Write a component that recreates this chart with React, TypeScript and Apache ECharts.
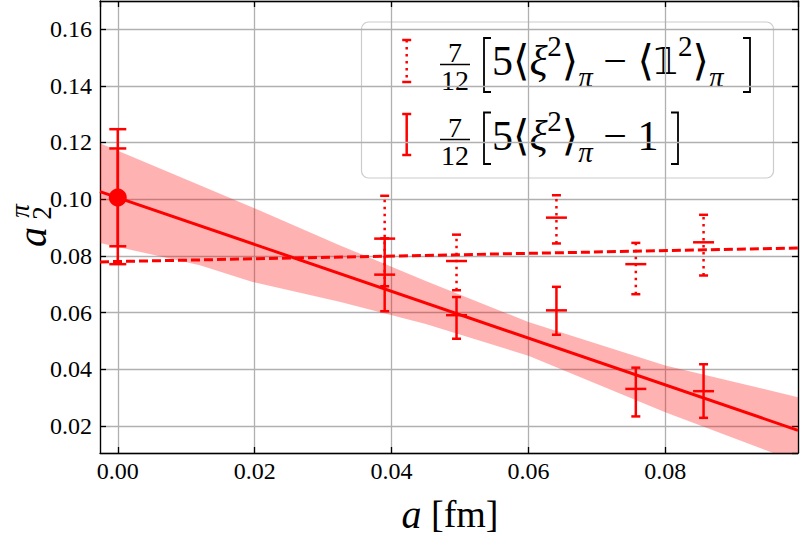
import React, { useEffect, useRef } from 'react';
import * as echarts from 'echarts';

const RED = '#ff0000';
const FONT = '"Liberation Serif", "DejaVu Serif", "DejaVu Sans", serif';
const MATHFONT = '"Liberation Serif", "DejaVu Sans", "DejaVu Serif", serif';

// lattice spacings a [fm]
const latticeA = [0.039, 0.0495, 0.0641, 0.0757, 0.0856];
// 7/12 [5<xi^2> - <1^2>]  (dotted error bars)
const dottedCenter = [0.0861, 0.0782, 0.0935, 0.0771, 0.0848];
const dottedLow = [0.0693, 0.0679, 0.0844, 0.0665, 0.0731];
const dottedHigh = [0.1012, 0.0875, 0.1014, 0.0846, 0.0945];
// 7/12 [5<xi^2> - 1]  (solid error bars)
const solidCenter = [0.0734, 0.0591, 0.0608, 0.0331, 0.0323];
const solidLow = [0.0605, 0.0508, 0.0522, 0.0234, 0.0229];
const solidHigh = [0.0862, 0.0655, 0.0691, 0.0406, 0.0418];

// continuum extrapolation
const contA = [0];
const contValue = [0.1006];
const contLowOuter = [0.0771];
const contHighOuter = [0.1247];
const contLowInner = [0.0834];
const contHighInner = [0.1179];

// fit lines
const fitSolidX = [-0.0026, 0.0994];
const fitSolidY = [0.1027, 0.0185];
const fitDashedX = [-0.0026, 0.0994];
const fitDashedY = [0.0779, 0.0828];

// fit uncertainty band
const bandX = [-0.0026, 0.012, 0.0197, 0.0324, 0.045, 0.06, 0.08, 0.0994];
const bandLow = [0.0846, 0.0767, 0.0708, 0.0638, 0.056, 0.0448, 0.0249, 0.0072];
const bandHigh = [0.1197, 0.1049, 0.0971, 0.0838, 0.0712, 0.0567, 0.0414, 0.0302];

const X_MIN = -0.0026;
const X_MAX = 0.0994;
const Y_MIN = 0.0105;
const Y_MAX = 0.1699;

function errorBarRenderer(dash: number[] | null, capW: number, midW: number, lw: number) {
  return (params: any, api: any) => {
    const x = api.value(0);
    const c = api.value(1);
    const lo = api.value(2);
    const hi = api.value(3);
    const pc = api.coord([x, c]);
    const pl = api.coord([x, lo]);
    const ph = api.coord([x, hi]);
    const st = { stroke: RED, lineWidth: lw, fill: 'none' };
    const children: any[] = [
      {
        type: 'line',
        shape: { x1: pl[0], y1: pl[1], x2: ph[0], y2: ph[1] },
        style: dash ? { ...st, lineDash: dash } : st,
      },
      { type: 'line', shape: { x1: pl[0] - capW / 2, y1: pl[1], x2: pl[0] + capW / 2, y2: pl[1] }, style: st },
      { type: 'line', shape: { x1: ph[0] - capW / 2, y1: ph[1], x2: ph[0] + capW / 2, y2: ph[1] }, style: st },
    ];
    if (midW > 0) {
      children.push({
        type: 'line',
        shape: { x1: pc[0] - midW / 2, y1: pc[1], x2: pc[0] + midW / 2, y2: pc[1] },
        style: st,
      });
    }
    return { type: 'group', children };
  };
}

function axisCommon(isX: boolean, main: boolean, position: string) {
  return {
    type: 'value',
    position,
    min: isX ? X_MIN : Y_MIN,
    max: isX ? X_MAX : Y_MAX,
    minInterval: 0.02,
    maxInterval: 0.02,
    splitNumber: isX ? 5 : 8,
    axisLine: { show: true, onZero: false, lineStyle: { color: '#000', width: 1.3 } },
    axisTick: { show: true, inside: true, length: 6, lineStyle: { color: '#000', width: 1.3 } },
    axisLabel: {
      show: main,
      showMinLabel: false,
      showMaxLabel: false,
      formatter: (v: number) => v.toFixed(2),
      fontFamily: FONT,
      fontSize: 24,
      color: '#000',
      margin: isX ? 6 : 8,
    },
    splitLine: { show: main, lineStyle: { color: '#b0b0b0', width: 1.3 } },
  };
}

function bracket(xv: number, y1: number, y2: number, dir: number): any {
  // dir = 1 -> "[" (serifs point right), -1 -> "]"
  const s = 7 * dir;
  return {
    type: 'polyline',
    shape: { points: [[xv + s, y1], [xv, y1], [xv, y2], [xv + s, y2]] },
    style: { stroke: '#000', lineWidth: 1.8, fill: 'none' },
  };
}

function legendRow(y: number, second: boolean): any[] {
  const fracX = 455;
  const rich = {
    n: { fontFamily: MATHFONT, fontSize: 42, lineHeight: 60, fill: '#000' },
    i: { fontFamily: FONT, fontSize: 42, lineHeight: 60, fontStyle: 'italic', fill: '#000' },
    d: { fontFamily: '"DejaVu Sans", "DejaVu Serif", serif', fontSize: 38, lineHeight: 60, fill: '#000' },
    sup: { fontFamily: FONT, fontSize: 29, lineHeight: 44, verticalAlign: 'top', fill: '#000' },
    sub: { fontFamily: FONT, fontSize: 29, lineHeight: 38, verticalAlign: 'bottom', fontStyle: 'italic', fill: '#000' },
  };
  const text = second
    ? '{n|5⟨}{i|ξ}{sup|2}{n|⟩}{sub|π}{n| − 1}'
    : '{n|5⟨}{i|ξ}{sup|2}{n|⟩}{sub|π}{n| − ⟨}{d|𝟙}{sup|2}{n|⟩}{sub|π}';
  const top = second ? y - 23.5 : y - 23;
  const bot = second ? y + 28 : y + 31;
  const rightX = second ? 678 : 750;
  return [
    { type: 'text', style: { text: '7', x: fracX, y: y - 8.5, fontFamily: FONT, fontSize: 28, fill: '#000', align: 'center', verticalAlign: 'middle' } },
    { type: 'line', shape: { x1: fracX - 15, y1: y + 3.5, x2: fracX + 15, y2: y + 3.5 }, style: { stroke: '#000', lineWidth: 1.5 } },
    { type: 'text', style: { text: '12', x: fracX, y: y + 19.5, fontFamily: FONT, fontSize: 28, fill: '#000', align: 'center', verticalAlign: 'middle' } },
    bracket(484, top, bot, 1),
    bracket(rightX, top, bot, -1),
    { type: 'text', style: { text, x: 492, y, align: 'left', verticalAlign: 'middle', rich } },
  ];
}

function legendMarker(y1: number, y2: number, dash: number[] | null): any[] {
  const x = 406.7;
  const st = { stroke: RED, lineWidth: 2.5 };
  return [
    { type: 'line', shape: { x1: x, y1, x2: x, y2 }, style: dash ? { ...st, lineDash: dash } : st },
    { type: 'line', shape: { x1: x - 4.5, y1, x2: x + 4.5, y2: y1 }, style: st },
    { type: 'line', shape: { x1: x - 4.5, y1: y2, x2: x + 4.5, y2 }, style: st },
  ];
}

function rotText(text: string, x: number, y: number, size: number, italic: boolean): any {
  return {
    type: 'text',
    x,
    y,
    rotation: Math.PI / 2,
    z: 100,
    style: {
      text,
      fontFamily: FONT,
      fontSize: size,
      fontStyle: italic ? 'italic' : 'normal',
      fill: '#000',
      align: 'center',
      verticalAlign: 'middle',
    },
  };
}

export default function App() {
  const ref = useRef<HTMLDivElement>(null);
  useEffect(() => {
    if (!ref.current) return;
    const chart = echarts.init(ref.current, undefined, { renderer: 'svg' });

    const dottedData = latticeA.map((a, i) => [a, dottedCenter[i], dottedLow[i], dottedHigh[i]]);
    const solidData = latticeA.map((a, i) => [a, solidCenter[i], solidLow[i], solidHigh[i]]);
    const contData = [
      [contA[0], contValue[0], contLowOuter[0], contHighOuter[0]],
      [contA[0], contValue[0], contLowInner[0], contHighInner[0]],
    ];

    const option: any = {
      animation: false,
      grid: { left: 100, right: 2, top: 1, bottom: 82, containLabel: false },
      xAxis: [axisCommon(true, true, 'bottom'), axisCommon(true, false, 'top')],
      yAxis: [axisCommon(false, true, 'left'), axisCommon(false, false, 'right')],
      series: [
        {
          type: 'custom',
          clip: true,
          z: 1,
          data: [[bandX[0], bandLow[0]]],
          renderItem: (params: any, api: any) => {
            const up = bandX.map((x, i) => api.coord([x, bandHigh[i]]));
            const dn = bandX.map((x, i) => api.coord([x, bandLow[i]])).reverse();
            return {
              type: 'polygon',
              shape: { points: up.concat(dn) },
              style: { fill: 'rgba(255,0,0,0.3)', stroke: 'none' },
            };
          },
        },
        {
          type: 'line',
          z: 3,
          data: fitSolidX.map((x, i) => [x, fitSolidY[i]]),
          showSymbol: false,
          symbol: 'none',
          lineStyle: { color: RED, width: 3 },
        },
        {
          type: 'line',
          z: 3,
          data: fitDashedX.map((x, i) => [x, fitDashedY[i]]),
          showSymbol: false,
          symbol: 'none',
          lineStyle: { color: RED, width: 3, type: [9, 4] },
        },
        {
          type: 'custom',
          z: 4,
          data: dottedData,
          renderItem: errorBarRenderer([2.5, 4.5], 9, 21, 2.5),
        },
        {
          type: 'custom',
          z: 4,
          data: solidData,
          renderItem: errorBarRenderer(null, 9, 21, 2.5),
        },
        {
          type: 'custom',
          z: 4,
          data: contData,
          renderItem: errorBarRenderer(null, 17, 0, 2.5),
        },
        {
          type: 'scatter',
          z: 5,
          data: contA.map((a, i) => [a, contValue[i]]),
          symbol: 'circle',
          symbolSize: 18,
          itemStyle: { color: RED, opacity: 1 },
        },
      ],
      graphic: [
        {
          type: 'group',
          z: 100,
          children: [
            {
              type: 'rect',
              shape: { x: 361.5, y: 22, width: 412, height: 156, r: 7 },
              style: { fill: 'rgba(255,255,255,0.8)', stroke: '#cccccc', lineWidth: 1.2 },
            },
            ...legendMarker(40, 82, [2.5, 4.5]),
            ...legendMarker(114, 155, null),
            ...legendRow(61, false),
            ...legendRow(136, true),
          ],
        },
        {
          type: 'text',
          z: 100,
          style: {
            text: '{i|a}{n| [fm]}',
            x: 450,
            y: 514,
            align: 'center',
            verticalAlign: 'middle',
            rich: {
              i: { fontFamily: FONT, fontSize: 40, fontStyle: 'italic', fill: '#000' },
              n: { fontFamily: FONT, fontSize: 38, fill: '#000' },
            },
          },
        },
        rotText('a', 32, 237, 40, true),
        rotText('2', 42, 213, 27, false),
        rotText('π', 20, 211, 27, true),
      ],
    };
    chart.setOption(option);
    return () => chart.dispose();
  }, []);
  return <div ref={ref} style={{ position: 'absolute', left: 0, top: 0, width: 800, height: 535 }} />;
}
